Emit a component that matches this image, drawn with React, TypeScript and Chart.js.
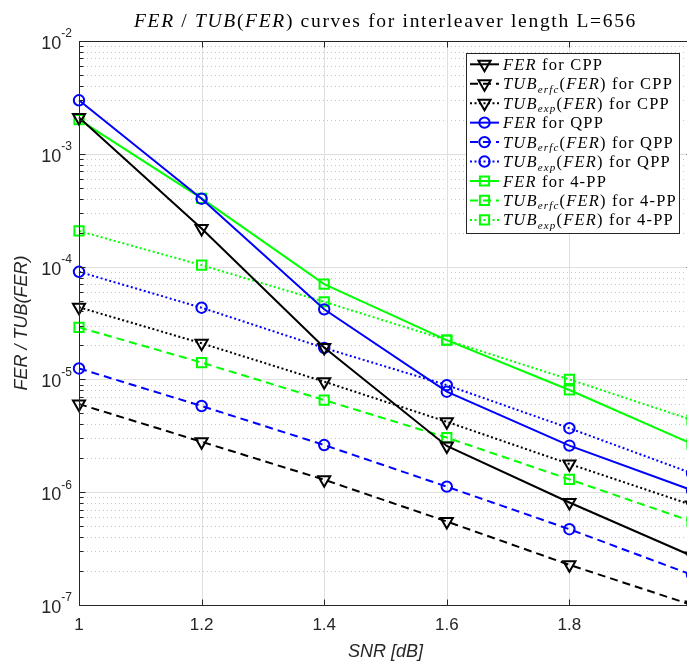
import React, { useEffect, useRef } from 'react';
import { Chart, registerables } from 'chart.js';
Chart.register(...registerables);

// ---- data ----
const snr = [1, 1.2, 1.4, 1.6, 1.8, 2.0];

const cppFer = [2.1e-3, 2.18e-4, 1.92e-5, 2.57e-6, 8.1e-7, 2.72e-7];
const cppErfc = [6.05e-6, 2.8e-6, 1.29e-6, 5.5e-7, 2.27e-7, 1.0e-7];
const cppExp = [4.36e-5, 2.09e-5, 9.55e-6, 4.21e-6, 1.78e-6, 7.7e-7];

const qppFer = [2.98e-3, 4.0e-4, 4.18e-5, 7.78e-6, 2.59e-6, 1.04e-6];
const qppErfc = [1.25e-5, 5.81e-6, 2.62e-6, 1.12e-6, 4.7e-7, 1.85e-7];
const qppExp = [9.0e-5, 4.32e-5, 1.9e-5, 8.9e-6, 3.69e-6, 1.47e-6];

const fppFer = [2.01e-3, 4.02e-4, 7.0e-5, 2.23e-5, 8.05e-6, 2.68e-6];
const fppErfc = [2.89e-5, 1.41e-5, 6.56e-6, 3.05e-6, 1.3e-6, 5.5e-7];
const fppExp = [2.07e-4, 1.03e-4, 4.88e-5, 2.23e-5, 1.0e-5, 4.37e-6];

const xTicks = [1, 1.2, 1.4, 1.6, 1.8, 2];
const xTickLabels = ['1', '1.2', '1.4', '1.6', '1.8', '2'];
const yDecades = [-7, -6, -5, -4, -3, -2];

const titleTail = ' curves for interleaver length L=656';
const xLabel = 'SNR [dB]';
const yLabel = 'FER / TUB(FER)';

type Kind = 'FER' | 'erfc' | 'exp';
type Marker = 'tri' | 'circle' | 'square';

const BLACK = '#000000';
const BLUE = '#0000ff';
const GREEN = '#00ff00';
const DASHED = [8, 5];
const DOTTED = [2, 2.5];

const series: { values: number[]; color: string; kind: Kind; marker: Marker; scheme: string }[] = [
  { values: cppFer, color: BLACK, kind: 'FER', marker: 'tri', scheme: 'CPP' },
  { values: cppErfc, color: BLACK, kind: 'erfc', marker: 'tri', scheme: 'CPP' },
  { values: cppExp, color: BLACK, kind: 'exp', marker: 'tri', scheme: 'CPP' },
  { values: qppFer, color: BLUE, kind: 'FER', marker: 'circle', scheme: 'QPP' },
  { values: qppErfc, color: BLUE, kind: 'erfc', marker: 'circle', scheme: 'QPP' },
  { values: qppExp, color: BLUE, kind: 'exp', marker: 'circle', scheme: 'QPP' },
  { values: fppFer, color: GREEN, kind: 'FER', marker: 'square', scheme: '4-PP' },
  { values: fppErfc, color: GREEN, kind: 'erfc', marker: 'square', scheme: '4-PP' },
  { values: fppExp, color: GREEN, kind: 'exp', marker: 'square', scheme: '4-PP' },
];

const dashFor = (k: Kind) => (k === 'FER' ? [] : k === 'erfc' ? DASHED : DOTTED);
const styleFor = (m: Marker) => (m === 'tri' ? 'triangle' : m === 'circle' ? 'circle' : 'rect');
const radiusFor = (m: Marker) => (m === 'tri' ? 7 : m === 'circle' ? 5.2 : 6.5);

type Run = { t: string; it?: boolean; sub?: boolean };
const legendRuns = (s: { kind: Kind; scheme: string }): Run[] => {
  if (s.kind === 'FER') return [{ t: 'FER', it: true }, { t: ' for ' + s.scheme }];
  return [
    { t: 'TUB', it: true },
    { t: s.kind, it: true, sub: true },
    { t: '(' },
    { t: 'FER', it: true },
    { t: ')' },
    { t: ' for ' + s.scheme },
  ];
};
const titleRuns: Run[] = [
  { t: 'FER', it: true },
  { t: ' / ' },
  { t: 'TUB', it: true },
  { t: '(' },
  { t: 'FER', it: true },
  { t: ')' },
  { t: titleTail },
];

const SERIF = "'Liberation Serif', 'Times New Roman', serif";
const SANS = "'Liberation Sans', Arial, Helvetica, sans-serif";
const AXIS = '#262626';

const W = 720;
const H = 663;

function runsChars(runs: Run[]) {
  return runs.reduce((n, r) => n + r.t.length, 0);
}
function richWidth(ctx: CanvasRenderingContext2D, runs: Run[], size: number, subSize: number, ls: number) {
  let w = 0;
  for (const r of runs) {
    ctx.font = `${r.it ? 'italic ' : ''}${r.sub ? subSize : size}px ${SERIF}`;
    w += ctx.measureText(r.t).width + ls * r.t.length;
  }
  return w;
}
function drawRich(
  ctx: CanvasRenderingContext2D,
  runs: Run[],
  x: number,
  y: number,
  size: number,
  subSize: number,
  subDy: number,
  ls: number
) {
  let cx = x;
  for (const r of runs) {
    ctx.font = `${r.it ? 'italic ' : ''}${r.sub ? subSize : size}px ${SERIF}`;
    for (const ch of r.t) {
      ctx.fillText(ch, cx, y + (r.sub ? subDy : 0));
      cx += ctx.measureText(ch).width + ls;
    }
  }
}

function drawMarker(ctx: CanvasRenderingContext2D, m: Marker, x: number, y: number, color: string) {
  const r = radiusFor(m);
  ctx.save();
  ctx.setLineDash([]);
  ctx.strokeStyle = color;
  ctx.lineWidth = 2;
  ctx.beginPath();
  if (m === 'tri') {
    const s = Math.sin(Math.PI / 3) * r;
    ctx.moveTo(x, y + r);
    ctx.lineTo(x - s, y - r / 2);
    ctx.lineTo(x + s, y - r / 2);
    ctx.closePath();
  } else if (m === 'circle') {
    ctx.arc(x, y, r, 0, Math.PI * 2);
  } else {
    const h = r * Math.SQRT1_2;
    ctx.rect(x - h, y - h, 2 * h, 2 * h);
  }
  ctx.stroke();
  ctx.restore();
}

const decorPlugin = {
  id: 'matlabDecor',
  beforeDatasetsDraw(chart: any) {
    const { ctx, chartArea: a, scales } = chart;
    const xs = scales.x;
    const ys = scales.y;
    ctx.save();
    ctx.fillStyle = '#ffffff';
    ctx.fillRect(a.left, a.top, a.right - a.left, a.bottom - a.top);
    ctx.strokeStyle = '#c8c8c8';
    ctx.lineWidth = 1;
    ctx.setLineDash([1, 3]);
    for (const e of yDecades.slice(0, -1)) {
      for (let m = 2; m <= 9; m++) {
        const py = Math.round(ys.getPixelForValue(m * Math.pow(10, e))) + 0.5;
        ctx.beginPath();
        ctx.moveTo(a.left, py);
        ctx.lineTo(a.right, py);
        ctx.stroke();
      }
    }
    ctx.setLineDash([]);
    ctx.strokeStyle = '#dfdfdf';
    for (const e of yDecades) {
      const py = Math.round(ys.getPixelForValue(Math.pow(10, e))) + 0.5;
      ctx.beginPath();
      ctx.moveTo(a.left, py);
      ctx.lineTo(a.right, py);
      ctx.stroke();
    }
    for (const v of xTicks) {
      const px = Math.round(xs.getPixelForValue(v)) + 0.5;
      ctx.beginPath();
      ctx.moveTo(px, a.top);
      ctx.lineTo(px, a.bottom);
      ctx.stroke();
    }
    ctx.restore();
  },
  afterDatasetsDraw(chart: any) {
    const { ctx, chartArea: a, scales } = chart;
    const xs = scales.x;
    const ys = scales.y;
    ctx.save();
    ctx.strokeStyle = AXIS;
    ctx.lineWidth = 1;
    ctx.setLineDash([]);
    const L = Math.round(a.left) + 0.5;
    const R = Math.round(a.right) + 0.5;
    const T = Math.round(a.top) + 0.5;
    const B = Math.round(a.bottom) + 0.5;
    ctx.beginPath();
    ctx.moveTo(L, T);
    ctx.lineTo(R, T);
    ctx.lineTo(R, B);
    ctx.lineTo(L, B);
    ctx.closePath();
    ctx.stroke();
    ctx.beginPath();
    for (const v of xTicks) {
      const px = Math.round(xs.getPixelForValue(v)) + 0.5;
      ctx.moveTo(px, B);
      ctx.lineTo(px, B - 6);
      ctx.moveTo(px, T);
      ctx.lineTo(px, T + 6);
    }
    for (const e of yDecades) {
      const py = Math.round(ys.getPixelForValue(Math.pow(10, e))) + 0.5;
      ctx.moveTo(L, py);
      ctx.lineTo(L + 6, py);
      ctx.moveTo(R, py);
      ctx.lineTo(R - 6, py);
      if (e < yDecades[yDecades.length - 1]) {
        for (let m = 2; m <= 9; m++) {
          const q = Math.round(ys.getPixelForValue(m * Math.pow(10, e))) + 0.5;
          ctx.moveTo(L, q);
          ctx.lineTo(L + 4, q);
          ctx.moveTo(R, q);
          ctx.lineTo(R - 4, q);
        }
      }
    }
    ctx.stroke();

    // x tick labels
    ctx.fillStyle = AXIS;
    ctx.font = `17px ${SANS}`;
    ctx.textAlign = 'center';
    ctx.textBaseline = 'middle';
    xTicks.forEach((v, i) => {
      ctx.fillText(xTickLabels[i], xs.getPixelForValue(v), a.bottom + 20);
    });
    // y tick labels 10^e
    ctx.textAlign = 'left';
    for (const e of yDecades) {
      const py = ys.getPixelForValue(Math.pow(10, e));
      const sup = String(e);
      ctx.font = `12px ${SANS}`;
      const sw = ctx.measureText(sup).width;
      ctx.font = `18px ${SANS}`;
      const bw = ctx.measureText('10').width;
      const right = a.left - 7;
      ctx.fillText('10', right - sw - bw, py + 3);
      ctx.font = `12px ${SANS}`;
      ctx.fillText(sup, right - sw, py - 7);
    }
    // axis labels
    ctx.font = `italic 18px ${SANS}`;
    ctx.textAlign = 'center';
    ctx.fillText(xLabel, (a.left + a.right) / 2, a.bottom + 47);
    ctx.save();
    ctx.translate(22, (a.top + a.bottom) / 2);
    ctx.rotate(-Math.PI / 2);
    ctx.fillText(yLabel, 0, 0);
    ctx.restore();

    // title
    ctx.fillStyle = '#000000';
    ctx.textAlign = 'left';
    ctx.textBaseline = 'alphabetic';
    const tSize = 19.5;
    const tw0 = richWidth(ctx, titleRuns, tSize, 13.6, 0);
    const tls = Math.max(0, (503 - tw0) / runsChars(titleRuns));
    const twF = richWidth(ctx, titleRuns, tSize, 13.6, tls);
    drawRich(ctx, titleRuns, (a.left + a.right) / 2 - twF / 2, 27, tSize, 13.6, 4, tls);

    // legend
    const lx = 466.5, ly = 53.5, lw = 213, lh = 180;
    ctx.fillStyle = '#ffffff';
    ctx.fillRect(lx, ly, lw, lh);
    ctx.strokeStyle = AXIS;
    ctx.lineWidth = 1;
    ctx.strokeRect(lx, ly, lw, lh);
    const lSize = 16.5;
    const lSub = 11;
    const refRuns = legendRuns(series[1]);
    const lw0 = richWidth(ctx, refRuns, lSize, lSub, 0);
    const lls = Math.max(0, (170 - lw0) / runsChars(refRuns));
    series.forEach((s, i) => {
      const cy = 64.3 + i * 19.45;
      ctx.save();
      ctx.strokeStyle = s.color;
      ctx.lineWidth = 2;
      ctx.setLineDash(dashFor(s.kind));
      ctx.beginPath();
      ctx.moveTo(470, cy);
      ctx.lineTo(499, cy);
      ctx.stroke();
      ctx.restore();
      drawMarker(ctx, s.marker, 484.5, cy, s.color);
      ctx.fillStyle = '#000000';
      ctx.textBaseline = 'alphabetic';
      ctx.textAlign = 'left';
      drawRich(ctx, legendRuns(s), 503, cy + 5.5, lSize, lSub, 3.5, lls);
    });
    ctx.restore();
  },
};

export default function App() {
  const ref = useRef<HTMLCanvasElement | null>(null);
  useEffect(() => {
    const canvas = ref.current;
    if (!canvas) return;
    const chart = new Chart(canvas, {
      type: 'line',
      data: {
        datasets: series.map((s) => ({
          label: `${s.kind} ${s.scheme}`,
          data: snr.map((x, i) => ({ x, y: s.values[i] })),
          borderColor: s.color,
          borderWidth: 2,
          borderDash: dashFor(s.kind),
          pointStyle: styleFor(s.marker),
          rotation: s.marker === 'tri' ? 180 : 0,
          pointRadius: radiusFor(s.marker),
          pointBorderWidth: 2,
          pointBorderColor: s.color,
          pointBackgroundColor: 'rgba(0,0,0,0)',
          fill: false,
          tension: 0,
          clip: false,
        })),
      } as any,
      options: {
        responsive: false,
        animation: false,
        events: [],
        layout: { padding: { top: 41, right: W - 692, left: 0, bottom: 0 } },
        plugins: { legend: { display: false }, title: { display: false }, tooltip: { enabled: false } },
        scales: {
          x: {
            type: 'linear',
            min: 1,
            max: 2,
            grid: { display: false },
            border: { display: false },
            ticks: { display: false },
            afterFit: (s: any) => {
              s.height = 58;
            },
          },
          y: {
            type: 'logarithmic',
            min: 1e-7,
            max: 1e-2,
            grid: { display: false },
            border: { display: false },
            ticks: { display: false },
            afterFit: (s: any) => {
              s.width = 79;
            },
          },
        },
      } as any,
      plugins: [decorPlugin],
    });
    return () => chart.destroy();
  }, []);
  return (
    <div
      style={{
        position: 'fixed',
        left: 0,
        top: 0,
        width: 687,
        height: 663,
        overflow: 'hidden',
        background: '#ffffff',
      }}
    >
      <canvas ref={ref} width={W} height={H} style={{ display: 'block', width: W, height: H }} />
    </div>
  );
}
